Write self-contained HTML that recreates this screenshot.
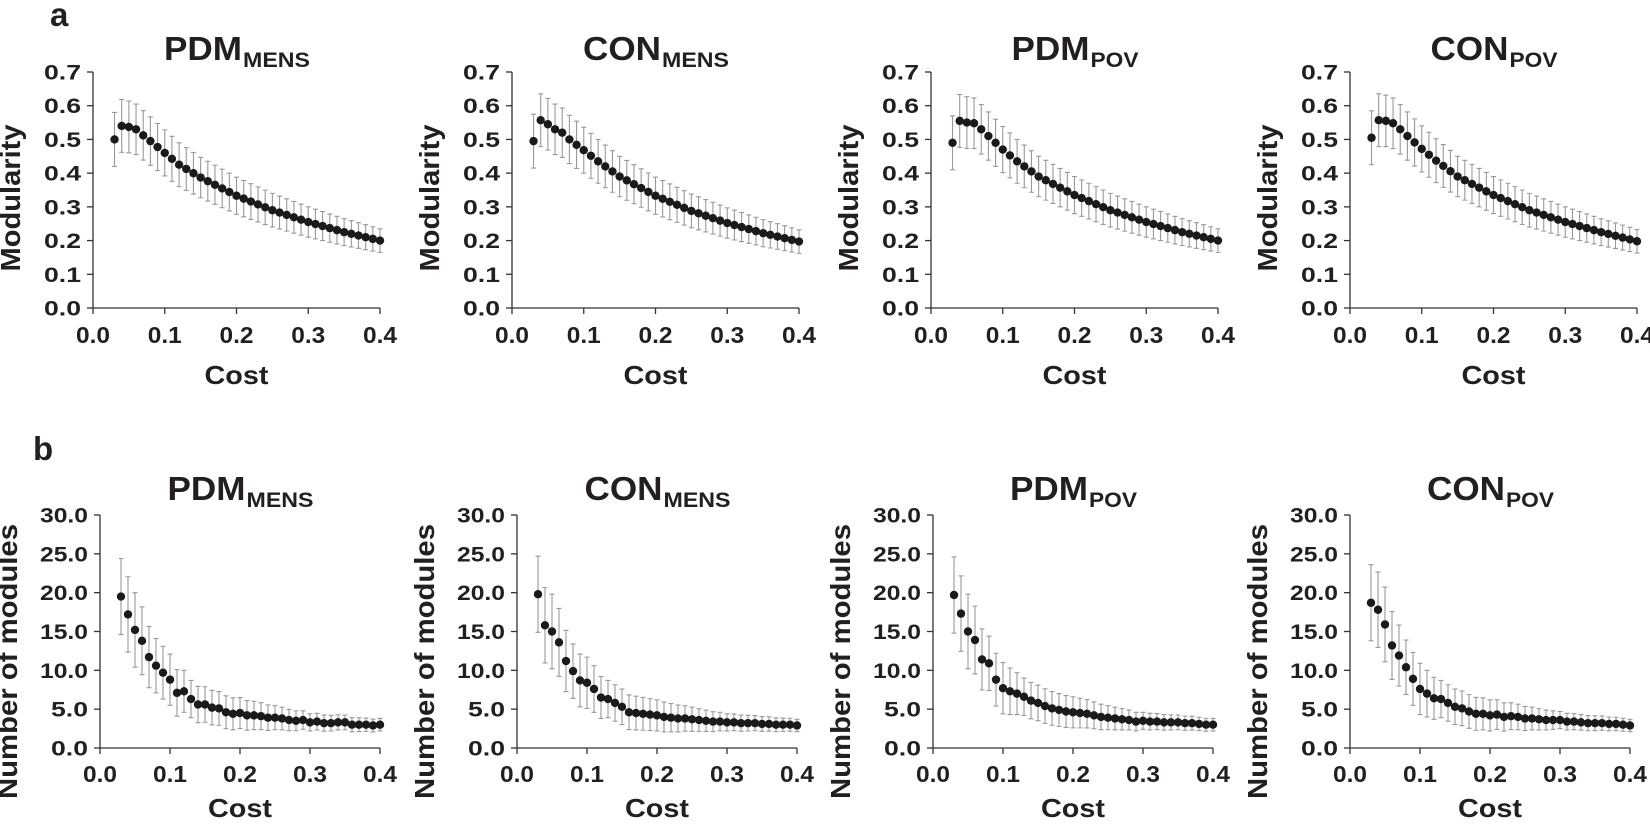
<!DOCTYPE html>
<html><head><meta charset="utf-8"><style>
body{margin:0;background:#fff}
svg{display:block;font-family:"Liberation Sans",Arial,sans-serif;font-weight:bold;fill:#231f20}
</style></head><body>
<svg id="s" width="1650" height="826" xmlns="http://www.w3.org/2000/svg">
<text x="50" y="26" font-size="33">a</text>
<text x="33" y="460" font-size="33">b</text>
</svg>
<script>
const S=document.getElementById('s');let h='';
function interp(pts,c){for(let i=0;i<pts.length-1;i++){if(c<=pts[i+1][0]+1e-9){const t=(c-pts[i][0])/(pts[i+1][0]-pts[i][0]);return pts[i][1]+t*(pts[i+1][1]-pts[i][1]);}}return pts[pts.length-1][1];}
const titles=[["PDM","MENS",67],["CON","MENS",67],["PDM","POV",48],["CON","POV",48]];
const axA=[93,512,931,1350], axB=[100,517,933,1350];
const modA=[
 [[.03,.50],[.04,.54],[.05,.537],[.06,.53],[.07,.512],[.08,.495],[.10,.46],[.12,.425],[.15,.387],[.2,.333],[.25,.29],[.3,.255],[.35,.225],[.4,.20]],
 [[.03,.495],[.04,.557],[.05,.545],[.06,.53],[.07,.52],[.08,.50],[.10,.468],[.12,.435],[.15,.39],[.2,.333],[.25,.288],[.3,.252],[.35,.222],[.4,.197]],
 [[.03,.49],[.04,.555],[.05,.55],[.06,.548],[.07,.53],[.08,.51],[.10,.47],[.12,.435],[.15,.39],[.2,.335],[.25,.29],[.3,.255],[.35,.225],[.4,.20]],
 [[.03,.505],[.04,.557],[.05,.555],[.06,.548],[.07,.53],[.08,.51],[.10,.472],[.12,.437],[.15,.39],[.2,.335],[.25,.29],[.3,.255],[.35,.225],[.4,.198]]];
const errA=[[.03,.08],[.06,.075],[.15,.06],[.25,.05],[.4,.035]];
const modB=[
 [19.5,17.2,15.2,13.8,11.7,10.6,9.7,8.8,7.1,7.3,6.3,5.6,5.6,5.2,5.1,4.6,4.4,4.5,4.2,4.2,4.1,3.9,3.9,3.8,3.6,3.5,3.6,3.3,3.4,3.2,3.2,3.3,3.3,3.0,3.0,3.0,2.9,3.0],
 [19.8,15.8,15.0,13.6,11.2,9.9,8.7,8.4,7.6,6.5,6.3,5.8,5.3,4.6,4.5,4.4,4.3,4.2,4.0,3.9,3.8,3.8,3.7,3.6,3.5,3.4,3.4,3.3,3.3,3.2,3.2,3.2,3.1,3.1,3.0,3.0,3.0,2.9],
 [19.7,17.3,15.0,13.9,11.4,10.9,8.8,7.7,7.3,7.0,6.6,6.1,5.8,5.4,5.1,4.9,4.7,4.6,4.5,4.4,4.2,4.0,3.9,3.8,3.7,3.6,3.4,3.5,3.4,3.4,3.3,3.3,3.3,3.2,3.2,3.1,3.0,3.0],
 [18.7,17.8,15.9,13.2,11.9,10.4,8.9,7.6,7.0,6.4,6.3,5.8,5.3,5.1,4.7,4.4,4.4,4.2,4.3,4.0,4.1,4.0,3.8,3.8,3.7,3.6,3.6,3.6,3.4,3.4,3.3,3.2,3.2,3.2,3.1,3.1,3.0,2.9]];
const errB=[[.03,4.9],[.05,4.8],[.08,3.5],[.1,3.3],[.13,2.4],[.2,2.0],[.3,1.1],[.4,0.8]];
function panel(ax,top,bot,ymax,ystep,vals,errs,title,tb,ylab,ylabx,ylabLen,xtb,costb){
 const x0=ax,x1=ax+(top===72?287:280),sx=c=>x0+(x1-x0)*c/0.4,sy=v=>bot-(bot-top)*v/ymax;
 const cx=(x0+x1)/2, tw=78+title[2];
 h+=`<text x="${cx-tw/2}" y="${tb}" font-size="33" textLength="78" lengthAdjust="spacingAndGlyphs">${title[0]}</text>`;
 h+=`<text x="${cx-tw/2+79}" y="${tb+7}" font-size="21" textLength="${title[2]}" lengthAdjust="spacingAndGlyphs">${title[1]}</text>`;
 h+=`<path d="M${x0},${top}V${bot}H${x1}" stroke="#333" stroke-width="1.3" fill="none"/>`;
 for(let v=0;v<=ymax+1e-9;v+=ystep){const y=sy(v),s=v.toFixed(1),L=s.length>3?48:37;h+=`<path d="M${x0-6},${y}H${x0}" stroke="#333" stroke-width="1.3"/><text x="${x0-12-L}" y="${y+7.5}" font-size="21" textLength="${L}" lengthAdjust="spacingAndGlyphs">${s}</text>`;}
 for(let i=0;i<=4;i++){const x=sx(i*0.1);h+=`<path d="M${x},${bot}V${bot+6}" stroke="#333" stroke-width="1.3"/><text x="${x-17}" y="${xtb}" font-size="23" textLength="34" lengthAdjust="spacingAndGlyphs">${(i*0.1).toFixed(1)}</text>`;}
 h+=`<text x="${cx-32}" y="${costb}" font-size="26" textLength="64" lengthAdjust="spacingAndGlyphs">Cost</text>`;
 h+=`<text transform="translate(${ylabx},${(top+bot)/2+ (top===72?8:30)}) rotate(-90)" text-anchor="middle" font-size="28" textLength="${ylabLen}" lengthAdjust="spacingAndGlyphs">${ylab}</text>`;
 let g='',d='';
 for(let i=0;i<38;i++){const c=0.03+i*0.01,v=vals(c,i),e=interp(errs,c),x=sx(c);
  const ya=sy(v+e),yb=sy(v-e);
  g+=`M${x},${ya}V${yb}M${x-2.5},${ya}h5M${x-2.5},${yb}h5`;
  d+=`<circle cx="${x}" cy="${sy(v)}" r="4.2"/>`;}
 h+=`<path d="${g}" stroke="#999" stroke-width="1.1" fill="none"/>`+`<g fill="#1a1a1a">${d}</g>`;
}
for(let p=0;p<4;p++){
 panel(axA[p],72,308,0.7,0.1,(c)=>interp(modA[p],c),errA,titles[p],60,"Modularity",axA[p]-73,147,343,384);
 panel(axB[p],515,748,30,5,(c,i)=>modB[p][i],errB,titles[p],500,"Number of modules",axB[p]-83,275,782,817);
}
S.insertAdjacentHTML('beforeend',h);
</script>
</body></html>
